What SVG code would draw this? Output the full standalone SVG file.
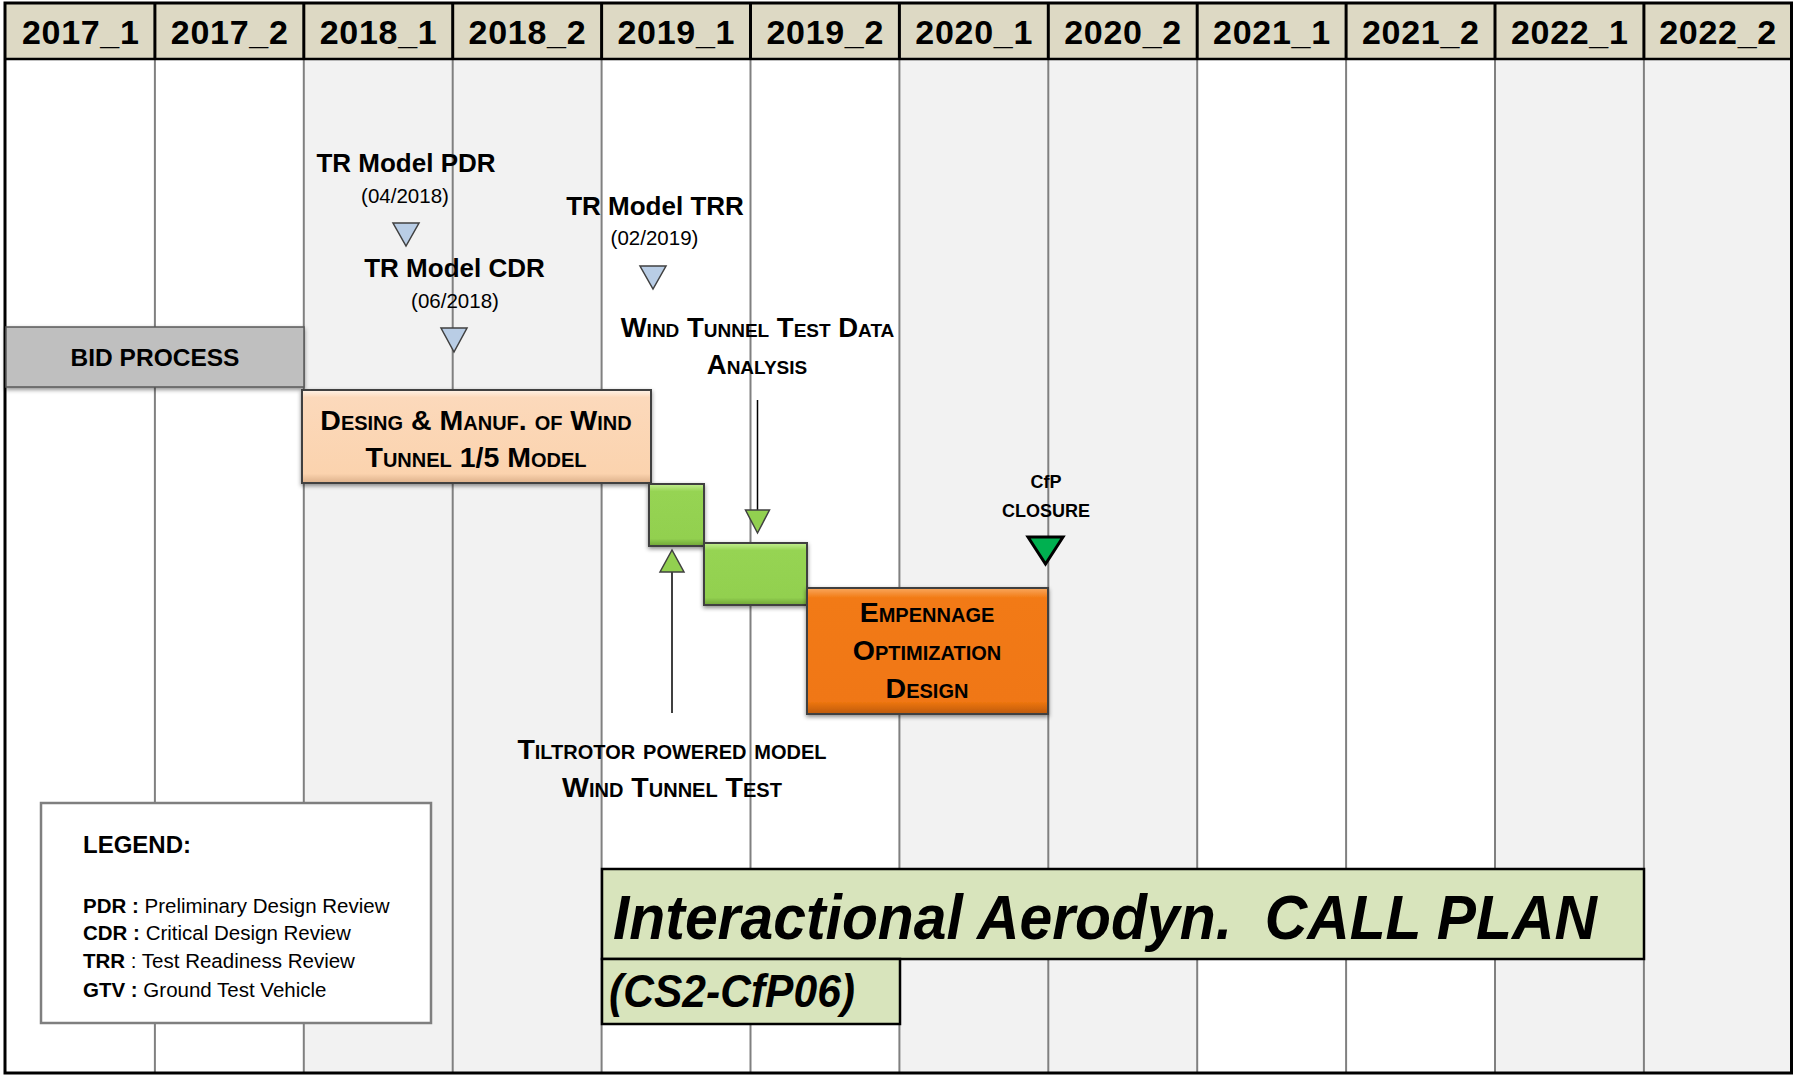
<svg xmlns="http://www.w3.org/2000/svg" width="1794" height="1076" viewBox="0 0 1794 1076">
<style>
.hdr{font-family:"Liberation Sans",Arial,sans-serif;font-weight:bold;font-size:34px;fill:#000;text-anchor:middle}
.ms{font-family:"Liberation Sans",Arial,sans-serif;font-weight:bold;font-size:26px;fill:#000;text-anchor:middle}
.dt{font-family:"Liberation Sans",Arial,sans-serif;font-size:20.5px;fill:#000;text-anchor:middle}
.sc{font-family:"Liberation Sans",Arial,sans-serif;font-weight:bold;font-size:28.5px;font-variant:small-caps;fill:#000;text-anchor:middle}
.sm{font-family:"Liberation Sans",Arial,sans-serif;font-weight:bold;font-size:18px;fill:#000;text-anchor:middle}
.lg{font-family:"Liberation Sans",Arial,sans-serif;font-size:20.5px;fill:#000}
.ti{font-family:"Liberation Sans",Arial,sans-serif;font-weight:bold;font-style:italic;fill:#000}
.grid{stroke:#808080;stroke-width:2}
.hsep{stroke:#000;stroke-width:3}
.tri{fill:#b9cde5;stroke:#404040;stroke-width:1.5}
.gtri{fill:#92d050;stroke:#404040;stroke-width:1.5}
.arr{stroke:#000;stroke-width:1.5;fill:none}
</style>
<defs>
<linearGradient id="gPeach" x1="0" y1="0" x2="0" y2="1">
<stop offset="0" stop-color="#fff3e8"/><stop offset="0.08" stop-color="#fcd9bb"/><stop offset="0.9" stop-color="#fbd3ae"/><stop offset="1" stop-color="#dcb08a"/>
</linearGradient>
<linearGradient id="gGreen" x1="0" y1="0" x2="0" y2="1">
<stop offset="0" stop-color="#c4ee92"/><stop offset="0.12" stop-color="#96d452"/><stop offset="0.88" stop-color="#92d050"/><stop offset="1" stop-color="#6fa536"/>
</linearGradient>
<linearGradient id="gOrange" x1="0" y1="0" x2="0" y2="1">
<stop offset="0" stop-color="#f9a85e"/><stop offset="0.08" stop-color="#f27a14"/><stop offset="0.9" stop-color="#f07712"/><stop offset="1" stop-color="#bd5a08"/>
</linearGradient>
<filter id="sh" x="-10%" y="-10%" width="120%" height="130%">
<feDropShadow dx="0" dy="2" stdDeviation="2" flood-color="#000" flood-opacity="0.45"/>
</filter>
</defs>

<g id="background">
<rect x="0" y="0" width="1794" height="1076" fill="#fff"/>
<rect x="303.8" y="59" width="297.8" height="1014" fill="#f2f2f2"/>
<rect x="899.4" y="59" width="297.8" height="1014" fill="#f2f2f2"/>
<rect x="1495" y="59" width="296.5" height="1014" fill="#f2f2f2"/>
<rect x="5" y="3" width="1786.5" height="56" fill="#ddd9c4"/>
</g>

<g id="grid">
<line class="grid" x1="154.9" y1="59" x2="154.9" y2="1073"/>
<line class="grid" x1="303.8" y1="59" x2="303.8" y2="1073"/>
<line class="grid" x1="452.7" y1="59" x2="452.7" y2="1073"/>
<line class="grid" x1="601.6" y1="59" x2="601.6" y2="1073"/>
<line class="grid" x1="750.5" y1="59" x2="750.5" y2="1073"/>
<line class="grid" x1="899.4" y1="59" x2="899.4" y2="1073"/>
<line class="grid" x1="1048.3" y1="59" x2="1048.3" y2="1073"/>
<line class="grid" x1="1197.2" y1="59" x2="1197.2" y2="1073"/>
<line class="grid" x1="1346.1" y1="59" x2="1346.1" y2="1073"/>
<line class="grid" x1="1495" y1="59" x2="1495" y2="1073"/>
<line class="grid" x1="1643.9" y1="59" x2="1643.9" y2="1073"/>
<line class="hsep" x1="154.9" y1="3" x2="154.9" y2="59"/>
<line class="hsep" x1="303.8" y1="3" x2="303.8" y2="59"/>
<line class="hsep" x1="452.7" y1="3" x2="452.7" y2="59"/>
<line class="hsep" x1="601.6" y1="3" x2="601.6" y2="59"/>
<line class="hsep" x1="750.5" y1="3" x2="750.5" y2="59"/>
<line class="hsep" x1="899.4" y1="3" x2="899.4" y2="59"/>
<line class="hsep" x1="1048.3" y1="3" x2="1048.3" y2="59"/>
<line class="hsep" x1="1197.2" y1="3" x2="1197.2" y2="59"/>
<line class="hsep" x1="1346.1" y1="3" x2="1346.1" y2="59"/>
<line class="hsep" x1="1495" y1="3" x2="1495" y2="59"/>
<line class="hsep" x1="1643.9" y1="3" x2="1643.9" y2="59"/>
<line x1="5" y1="59" x2="1791.5" y2="59" stroke="#000" stroke-width="2.5"/>
<rect x="5" y="3" width="1786.5" height="1070" fill="none" stroke="#000" stroke-width="3"/>
</g>

<g id="header">
<text class="hdr" x="80.4" y="44" textLength="117">2017_1</text>
<text class="hdr" x="229.3" y="44" textLength="117">2017_2</text>
<text class="hdr" x="378.2" y="44" textLength="117">2018_1</text>
<text class="hdr" x="527.1" y="44" textLength="117">2018_2</text>
<text class="hdr" x="676" y="44" textLength="117">2019_1</text>
<text class="hdr" x="824.9" y="44" textLength="117">2019_2</text>
<text class="hdr" x="973.8" y="44" textLength="117">2020_1</text>
<text class="hdr" x="1122.7" y="44" textLength="117">2020_2</text>
<text class="hdr" x="1271.6" y="44" textLength="117">2021_1</text>
<text class="hdr" x="1420.5" y="44" textLength="117">2021_2</text>
<text class="hdr" x="1569.4" y="44" textLength="117">2022_1</text>
<text class="hdr" x="1717.7" y="44" textLength="117">2022_2</text>
</g>

<g id="connectors">
<line class="arr" x1="757.5" y1="400" x2="757.5" y2="510"/>
<line class="arr" x1="672" y1="572" x2="672" y2="713"/>
</g>

<g id="bid-process">
<rect x="6" y="327" width="298" height="60" fill="#bfbfbf" stroke="#595959" stroke-width="1.5" filter="url(#sh)"/>
<text class="ms" x="155" y="366" style="font-size:24.5px">BID PROCESS</text>
</g>

<g id="pdr">
<text class="ms" x="406" y="172">TR Model PDR</text>
<text class="dt" x="405" y="203">(04/2018)</text>
<polygon class="tri" points="393,223 419,223 406,246"/>
</g>

<g id="cdr">
<text class="ms" x="454.5" y="277">TR Model CDR</text>
<text class="dt" x="455" y="308">(06/2018)</text>
<polygon class="tri" points="441,328 467,328 454,352"/>
</g>

<g id="trr">
<text class="ms" x="655" y="215">TR Model TRR</text>
<text class="dt" x="654.5" y="245">(02/2019)</text>
<polygon class="tri" points="640,266 666,266 653,289"/>
</g>

<g id="design-manuf">
<rect x="302" y="390" width="349" height="93" fill="url(#gPeach)" stroke="#404040" stroke-width="2" filter="url(#sh)"/>
<text class="sc" x="476" y="430">Desing &amp; Manuf. of Wind</text>
<text class="sc" x="476" y="467">Tunnel 1/5 Model</text>
</g>

<g id="wt-test">
<rect x="649" y="484" width="55" height="62" fill="url(#gGreen)" stroke="#404040" stroke-width="2" filter="url(#sh)"/>
</g>

<g id="wt-analysis">
<rect x="704" y="543" width="103" height="62" fill="url(#gGreen)" stroke="#404040" stroke-width="2" filter="url(#sh)"/>
</g>

<g id="empennage">
<rect x="807" y="588" width="241" height="126" fill="url(#gOrange)" stroke="#404040" stroke-width="2" filter="url(#sh)"/>
<text class="sc" x="927" y="622">Empennage</text>
<text class="sc" x="927" y="660">Optimization</text>
<text class="sc" x="927" y="698">Design</text>
</g>

<g id="analysis-label">
<text class="sc" x="757.5" y="337" style="font-size:27.5px">Wind Tunnel Test Data</text>
<text class="sc" x="757" y="374" style="font-size:27.5px">Analysis</text>
<polygon class="gtri" points="745.5,510 769.5,510 757.5,533"/>
</g>

<g id="tiltrotor-label">
<polygon class="gtri" points="660,572 684,572 672,550"/>
<text class="sc" x="672" y="759" style="font-size:28.5px">Tiltrotor powered model</text>
<text class="sc" x="672" y="797" style="font-size:28.5px">Wind Tunnel Test</text>
</g>

<g id="cfp-closure">
<text class="sm" x="1046" y="488">CfP</text>
<text class="sm" x="1046" y="517">CLOSURE</text>
<polygon points="1028,537 1063,537 1045.5,564" fill="#00b050" stroke="#000" stroke-width="3" stroke-linejoin="miter"/>
</g>

<g id="legend">
<rect x="41" y="803" width="390" height="220" fill="#fff" stroke="#7f7f7f" stroke-width="2.5"/>
<text class="lg" x="83" y="853" style="font-weight:bold;font-size:24px">LEGEND:</text>
<text class="lg" x="83" y="913"><tspan font-weight="bold">PDR :</tspan> Preliminary Design Review</text>
<text class="lg" x="83" y="940"><tspan font-weight="bold">CDR :</tspan> Critical Design Review</text>
<text class="lg" x="83" y="968"><tspan font-weight="bold">TRR</tspan> : Test Readiness Review</text>
<text class="lg" x="83" y="997"><tspan font-weight="bold">GTV :</tspan> Ground Test Vehicle</text>
</g>

<g id="title">
<rect x="602" y="869" width="1042" height="90" fill="#d8e4bc" stroke="#000" stroke-width="2.5"/>
<rect x="602" y="959" width="298" height="65" fill="#d8e4bc" stroke="#000" stroke-width="2.5"/>
<text class="ti" x="613" y="939" style="font-size:63px" textLength="984" lengthAdjust="spacingAndGlyphs" xml:space="preserve">Interactional Aerodyn.  CALL PLAN</text>
<text class="ti" x="609" y="1007" style="font-size:47px" textLength="246" lengthAdjust="spacingAndGlyphs">(CS2-CfP06)</text>
</g>
</svg>
